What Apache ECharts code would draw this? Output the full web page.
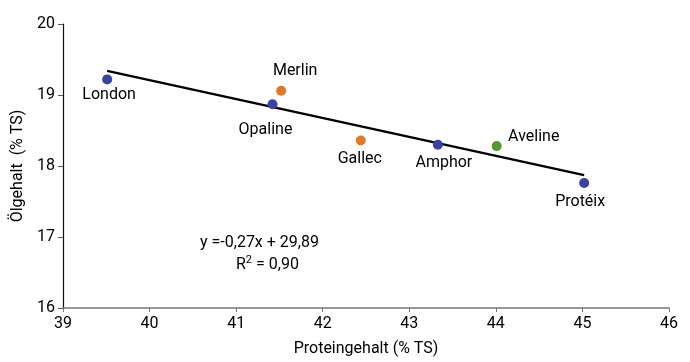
<!DOCTYPE html>
<html>
<head>
<meta charset="utf-8">
<script src="https://cdn.jsdelivr.net/npm/echarts@6/dist/echarts.min.js"></script>
<style>html,body{margin:0;padding:0;background:#fff;}#c{width:690px;height:362px;}</style>
</head>
<body>
<div id="c"></div>
<script>
// Data
const varieties = ["London", "Merlin", "Opaline", "Gallec", "Amphor", "Aveline", "Protéix"];
const protein = [39.51, 41.52, 41.42, 42.44, 43.33, 44.01, 45.02];
const oil = [19.22, 19.06, 18.87, 18.36, 18.30, 18.28, 17.76];
const groups = ["blue", "orange", "blue", "orange", "blue", "green", "blue"];
const trendX = [39.51, 45.02];
const trendY = [19.34, 17.87];
const xTicks = [39, 40, 41, 42, 43, 44, 45, 46];
const yTicks = [16, 17, 18, 19, 20];
const equationText = "y =-0,27x + 29,89";
const r2Text = "0,90";

// Styles
const groupColors = { blue: "#3a43a0", orange: "#e07a2b", green: "#55992f" };
const labelOffsets = {
  "London": [2, 16], "Merlin": [14, -20], "Opaline": [-7, 26], "Gallec": [-1, 19],
  "Amphor": [6, 18], "Aveline": [37, -9], "Protéix": [-4, 19]
};
const FONT = "Roboto";
const TXT = "#000";

const chart = echarts.init(document.getElementById('c'), null, { renderer: 'canvas' });
const pts = varieties.map((n, i) => ({
  name: n,
  value: [protein[i], oil[i]],
  itemStyle: { color: groupColors[groups[i]], opacity: 1 },
  label: { show: true, position: 'inside', offset: labelOffsets[n], formatter: n,
           color: TXT, fontSize: 16, fontFamily: FONT }
}));

chart.setOption({
  animation: false,
  grid: { left: 63, right: 21, top: 24, bottom: 49, containLabel: false },
  xAxis: {
    type: 'value', min: xTicks[0], max: xTicks[xTicks.length - 1], interval: 1,
    name: 'Proteingehalt (% TS)', nameLocation: 'middle', nameGap: 33,
    nameTextStyle: { fontSize: 16, fontFamily: FONT, color: TXT },
    axisLine: { show: true, lineStyle: { color: '#777', width: 1.5 } },
    axisTick: { show: true, inside: false, length: 4, lineStyle: { color: '#777' } },
    axisLabel: { fontSize: 16, fontFamily: FONT, color: TXT, margin: 8 },
    splitLine: { show: false }
  },
  yAxis: {
    type: 'value', min: yTicks[0], max: yTicks[yTicks.length - 1], interval: 1,
    name: 'Ölgehalt  (% TS)', nameLocation: 'middle', nameGap: 34,
    nameTextStyle: { fontSize: 16, fontFamily: FONT, color: TXT },
    axisLine: { show: true, lineStyle: { color: '#111', width: 1.2 } },
    axisTick: { show: true, inside: false, length: 5, lineStyle: { color: '#555' } },
    axisLabel: { fontSize: 16, fontFamily: FONT, color: TXT, margin: 8 },
    splitLine: { show: false }
  },
  series: [
    {
      type: 'line', data: trendX.map((x, i) => [x, trendY[i]]),
      symbol: 'none', lineStyle: { color: '#000', width: 2.3 }, z: 1, silent: true
    },
    {
      type: 'scatter', data: pts, symbolSize: 10, z: 3, itemStyle: { opacity: 1 }
    }
  ],
  graphic: [
    { type: 'text', left: 200, top: 235,
      style: { text: equationText, fontSize: 16, fontFamily: FONT, fill: TXT } },
    { type: 'text', left: 236, top: 255,
      style: { text: 'R{s|2} = ' + r2Text, fontSize: 16, fontFamily: FONT, fill: TXT,
               rich: { s: { fontSize: 11, fontFamily: FONT, fill: TXT, verticalAlign: 'top', padding: [0, 0, 8, 0] } } } }
  ]
});
</script>
</body>
</html>
